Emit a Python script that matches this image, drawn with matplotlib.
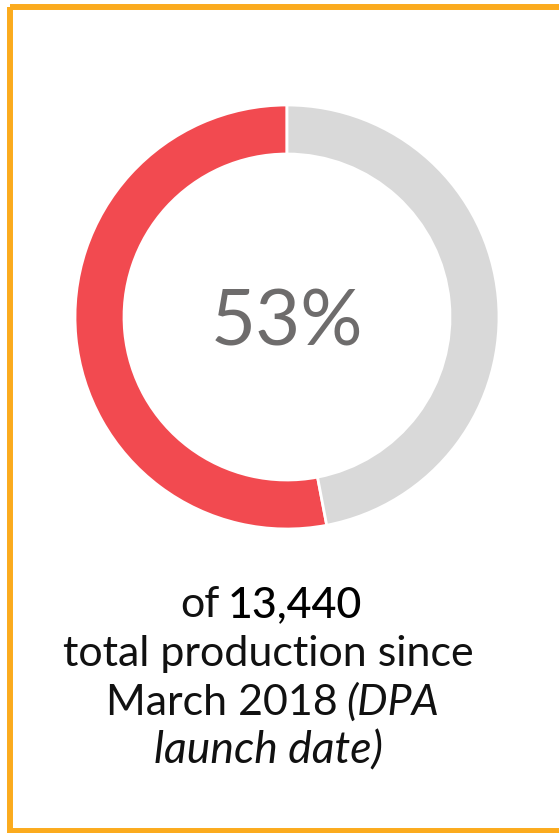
import matplotlib.pyplot as plt
from matplotlib.patches import Rectangle

# donut values
labels = ['Share', 'Rest']
values = [53, 47]
colors = ['#F24A50', '#D9D9D9']
center_label = '53%'

fig = plt.figure(figsize=(5.59, 8.33), dpi=100)
ax = fig.add_axes([0, 0, 1, 1])

# y axis is flipped below, so -90 / clockwise here shows as top / counterclockwise
ax.pie(values, colors=colors, startangle=-90, counterclock=False,
       center=(287, 317), radius=212, frame=True,
       wedgeprops=dict(width=49, edgecolor='white', linewidth=2))

ax.set_xlim(0, 559)
ax.set_ylim(833, 0)
ax.axis('off')

# orange frame (right side runs off the image)
ax.add_patch(Rectangle((10, 7), 600, 824, fill=False, edgecolor='#FBAB1E', linewidth=4.3))

fnt = 'Lato'
ax.text(287, 345, center_label, ha='center', va='baseline', fontsize=56,
        color='#6E6C6C', family=fnt)

ax.text(220, 617, 'of', ha='right', va='baseline', fontsize=31, family=fnt, color='#111111')
ax.text(228, 617, '13,440', ha='left', va='baseline', fontsize=31, family=fnt,
        fontweight='medium', color='#000000')
ax.text(268, 666, 'total production since', ha='center', va='baseline', fontsize=31,
        family=fnt, color='#111111')
ax.text(338, 715, 'March 2018', ha='right', va='baseline', fontsize=31, family=fnt, color='#111111')
ax.text(346, 715, '(DPA', ha='left', va='baseline', fontsize=31, family=fnt,
        style='italic', color='#111111')
ax.text(268, 763, 'launch date)', ha='center', va='baseline', fontsize=32, family=fnt,
        style='italic', color='#111111')

fig.savefig('out.png', dpi=100)
